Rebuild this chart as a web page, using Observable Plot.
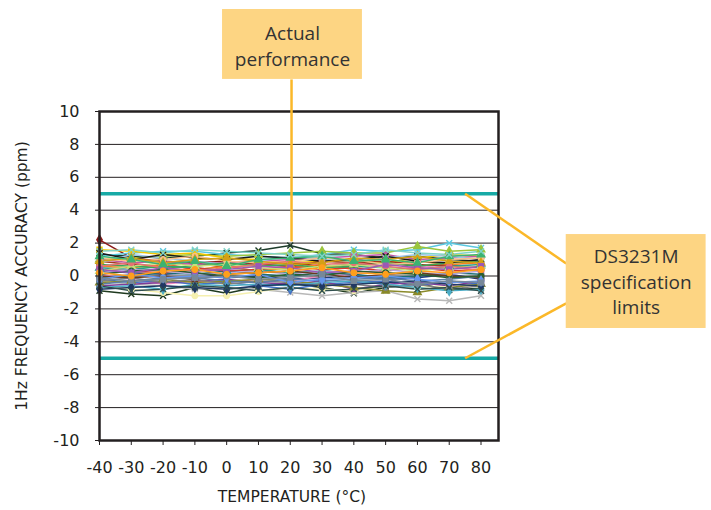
<!DOCTYPE html>
<html><head><meta charset="utf-8">
<script src="https://cdn.jsdelivr.net/npm/d3@7"></script>
<script src="https://cdn.jsdelivr.net/npm/@observablehq/plot@0.6"></script>
<style>body{margin:0;background:#fff}</style>
</head><body><div id="chart"></div><script>
const temps = [-40,-30,-20,-10,0,10,20,30,40,50,60,70,80];
const yTicks = [-10,-8,-6,-4,-2,0,2,4,6,8,10];
const specLimits = [-5, 5];

const seriesColors = ["#1f3a1f","#b8b8b8","#f5f0b0","#8b1a1a","#1d3b2a","#5bc8e0","#9bc53d","#f2c500","#1f3c7a","#a23b22",
  "#f08cc0","#4472c4","#f58220","#7d3c98","#2a9d8f","#c058a8","#8a8a2a","#9cc3e6","#1d6f74","#d63d2e",
  "#3aa655","#1a1a1a","#808080","#b4a7d6","#4bacc6","#f9c089","#203864","#c5e07a","#6b3a1e","#e57373",
  "#5b7fa6","#d4a017","#2e5e2e","#6495ed","#9b59b6","#3cb371","#778899","#ff9f1c","#7fd3c8","#2f4f4f"];
const seriesSymbols = ["times","times","circle","diamond","times","times","triangle","square","square","circle",
  "times","diamond","circle","square","triangle","square","triangle","times","diamond","circle",
  "diamond","times","circle","square","diamond","circle","diamond","triangle","square","circle",
  "times","triangle","circle","diamond","square","triangle","square","circle","times","times"];
const seriesValues = [
  [-0.9,-1.1,-1.2,-0.7,-1.05,-0.65,-0.45,-0.7,-1.05,-0.7,-0.45,-0.85,-0.75],
  [-0.3,-0.5,-0.6,-0.8,-0.7,-0.8,-1.0,-1.2,-1.0,-0.9,-1.4,-1.5,-1.2],
  [-0.5,-0.8,-1.0,-1.2,-1.2,-0.95,-0.7,-0.8,-0.9,-0.6,-0.7,-0.6,-0.5],
  [2.2,1.1,0.9,0.8,0.9,0.7,0.8,0.6,0.7,0.8,0.6,0.7,0.5],
  [1.3,1.2,1.1,1.2,1.4,1.55,1.85,1.35,1.3,1.1,1.2,1.0,0.9],
  [1.2,1.4,1.5,1.5,1.3,1.2,1.1,1.3,1.6,1.5,1.6,2.0,1.7],
  [1.0,1.1,1.2,1.3,1.2,1.3,1.4,1.5,1.4,1.4,1.8,1.5,1.6],
  [1.6,1.5,1.3,1.4,1.1,1.0,0.8,0.9,0.9,0.8,1.1,1.3,1.2],
  [0.3,0.2,0.1,0.2,-0.1,0.0,-0.2,-0.1,0.0,-0.2,-0.1,0.1,-0.2],
  [0.9,0.7,0.6,0.8,0.5,0.7,0.6,0.9,0.8,0.9,0.7,0.6,0.5],
  [0.1,-0.2,-0.5,-0.3,-0.4,-0.2,-0.3,0.0,0.1,0.3,0.6,0.5,0.4],
  [-0.2,-0.4,-0.3,-0.5,-0.4,-0.6,-0.8,-0.5,-0.4,-0.3,-0.6,-0.3,-0.5],
  [0.6,0.5,0.7,0.4,0.6,0.3,0.5,0.7,0.4,0.6,0.9,0.7,0.8],
  [-0.6,-0.5,-0.4,-0.3,-0.2,-0.4,-0.5,-0.3,-0.8,-0.5,-0.4,-0.6,-0.3],
  [0.5,0.4,0.6,0.5,0.3,0.4,0.2,0.3,0.6,0.5,0.4,0.6,0.7],
  [1.0,0.8,0.9,0.7,0.8,0.9,1.0,1.1,1.2,1.3,1.0,1.1,1.2],
  [-0.4,-0.3,-0.2,-0.4,-0.3,-0.2,-0.3,-0.5,-0.7,-0.9,-1.0,-0.7,-0.5],
  [0.8,1.3,1.1,0.9,0.7,0.9,1.2,1.0,0.9,1.1,1.3,1.2,1.0],
  [-0.1,0.0,0.2,0.1,0.3,0.1,0.0,0.2,0.1,-0.1,0.0,0.2,0.1],
  [0.4,0.3,0.2,0.5,0.3,0.4,0.6,0.4,0.5,0.3,0.5,0.3,0.4],
  [0.7,0.6,0.5,0.6,0.8,0.6,0.7,0.5,0.6,0.8,0.6,0.8,0.9],
  [1.4,1.0,1.3,1.1,1.0,1.2,1.1,0.9,1.0,1.2,0.9,0.8,1.0],
  [-0.3,-0.1,-0.4,-0.2,-0.5,-0.3,-0.4,-0.6,-0.5,-0.7,-0.5,-0.8,-0.6],
  [0.2,0.4,0.3,0.1,0.2,0.3,0.1,0.3,0.2,0.4,0.2,0.1,0.3],
  [-0.7,-0.6,-0.8,-0.5,-0.6,-0.5,-0.6,-0.4,-0.3,-0.5,-0.7,-0.9,-0.8],
  [1.1,0.9,1.0,1.2,0.9,0.8,0.9,1.1,1.0,0.7,0.8,1.0,1.1],
  [-0.8,-0.7,-0.6,-0.7,-0.8,-0.6,-0.5,-0.6,-0.5,-0.4,-0.3,-0.5,-0.6],
  [0.3,0.6,0.8,0.6,0.7,0.5,0.4,0.6,0.7,0.5,0.3,0.5,0.6],
  [0.0,-0.1,0.0,-0.2,0.1,0.2,0.3,0.1,-0.1,0.1,0.2,0.0,-0.1],
  [0.6,0.8,0.5,0.3,0.5,0.7,0.9,0.7,0.8,0.6,0.4,0.6,0.3],
  [-0.5,-0.3,-0.1,-0.1,-0.3,-0.4,-0.2,-0.3,-0.2,-0.1,-0.3,-0.2,0.0],
  [0.9,1.1,0.8,1.0,1.1,0.9,0.7,0.8,1.1,1.0,1.2,0.9,0.8],
  [0.1,0.3,0.4,0.2,0.0,-0.1,0.1,0.0,0.3,0.2,0.1,-0.1,0.0],
  [-0.2,0.1,-0.1,0.0,-0.1,0.1,-0.4,-0.2,-0.1,0.0,-0.2,-0.4,-0.3],
  [0.4,0.2,0.5,0.3,0.4,0.6,0.5,0.2,0.3,0.7,0.5,0.4,0.6],
  [1.2,1.0,0.7,0.9,0.6,1.0,1.1,1.2,0.9,1.0,0.8,1.2,1.3],
  [-0.1,-0.3,-0.2,-0.1,0.0,-0.2,-0.1,0.1,-0.3,-0.2,-0.5,-0.3,-0.4],
  [0.2,0.0,0.3,0.4,0.1,0.2,0.3,0.5,0.2,0.1,0.3,0.2,0.4],
  [1.5,1.6,1.4,1.6,1.5,1.4,1.3,1.2,1.3,1.6,1.4,1.3,1.5],
  [-0.6,-0.9,-0.8,-0.6,-0.7,-0.9,-0.7,-0.9,-0.8,-0.6,-0.8,-0.7,-0.9]
];

// annotation boxes (data coordinates)
const boxes = [
  {x1: -1.3, x2: 42.7, y1: 11.95, y2: 16.2, cx: 20.7, cy: 14.07, text: "Actual\nperformance"},
  {x1: 106.8, x2: 150.8, y1: -3.19, y2: 2.52, cx: 128.8, cy: -0.27, text: "DS3231M\nspecification\nlimits"}
];
const connectors = [
  {x1: 20.4, y1: 11.95, x2: 20.4, y2: 2.1},
  {x1: 75, y1: 5, x2: 106.8, y2: 0.76},
  {x1: 75, y1: -5, x2: 106.8, y2: -1.67}
];

const rows = [];
seriesValues.forEach((vals, s) => vals.forEach((v, i) => rows.push({s, t: temps[i], v})));

const ink = "#231f20";
const axisFont = "'DejaVu Sans', sans-serif";
const boxFont = "'Open Sans', sans-serif";
const plot = Plot.plot({
  width: 711, height: 510,
  marginLeft: 99, marginRight: 213, marginTop: 111, marginBottom: 70,
  style: {fontFamily: axisFont, fontSize: "16px", color: ink, background: "#fff"},
  x: {domain: [-40, 85.5]},
  y: {domain: [-10, 10]},
  color: {type: "ordinal", domain: d3.range(seriesColors.length), range: seriesColors},
  symbol: {domain: d3.range(seriesSymbols.length), range: seriesSymbols},
  marks: [
    Plot.ruleY(yTicks, {stroke: ink, strokeWidth: 1}),
    Plot.lineY(rows, {x: "t", y: "v", z: "s", stroke: "s", strokeWidth: 1.5}),
    Plot.dot(rows, {x: "t", y: "v", stroke: "s", fill: "s", symbol: "s", r: 2.8, strokeWidth: 1.4}),
    Plot.ruleY(specLimits, {stroke: "#17aaa6", strokeWidth: 3.5}),
    Plot.frame({stroke: ink, strokeWidth: 2.5}),
    Plot.axisY({ticks: yTicks, tickSize: 4, tickPadding: 16, stroke: ink, fill: ink, label: null, fontSize: 16, tickFormat: d => String(d)}),
    Plot.axisX({ticks: temps, tickSize: 5, tickPadding: 16, stroke: ink, fill: ink, label: null, fontSize: 16, tickFormat: d => String(d)}),
    Plot.text(["1Hz FREQUENCY ACCURACY (ppm)"], {frameAnchor: "left", textAnchor: "middle", dx: -77, rotate: -90, fill: ink, fontSize: 15.5}),
    Plot.text(["TEMPERATURE (°C)"], {frameAnchor: "bottom", dy: 61, dx: -7, fill: ink, fontSize: 15.5}),
    Plot.link(connectors, {x1: "x1", y1: "y1", x2: "x2", y2: "y2", stroke: "#fbb829", strokeWidth: 2.5, clip: false}),
    Plot.rect(boxes, {x1: "x1", x2: "x2", y1: "y1", y2: "y2", fill: "#fdd583", clip: false}),
    Plot.text(boxes, {x: "cx", y: "cy", text: "text", fill: "#333", fontSize: 19, lineHeight: 1.35, fontFamily: boxFont, clip: false})
  ]
});
document.getElementById("chart").appendChild(plot);
</script></body></html>
